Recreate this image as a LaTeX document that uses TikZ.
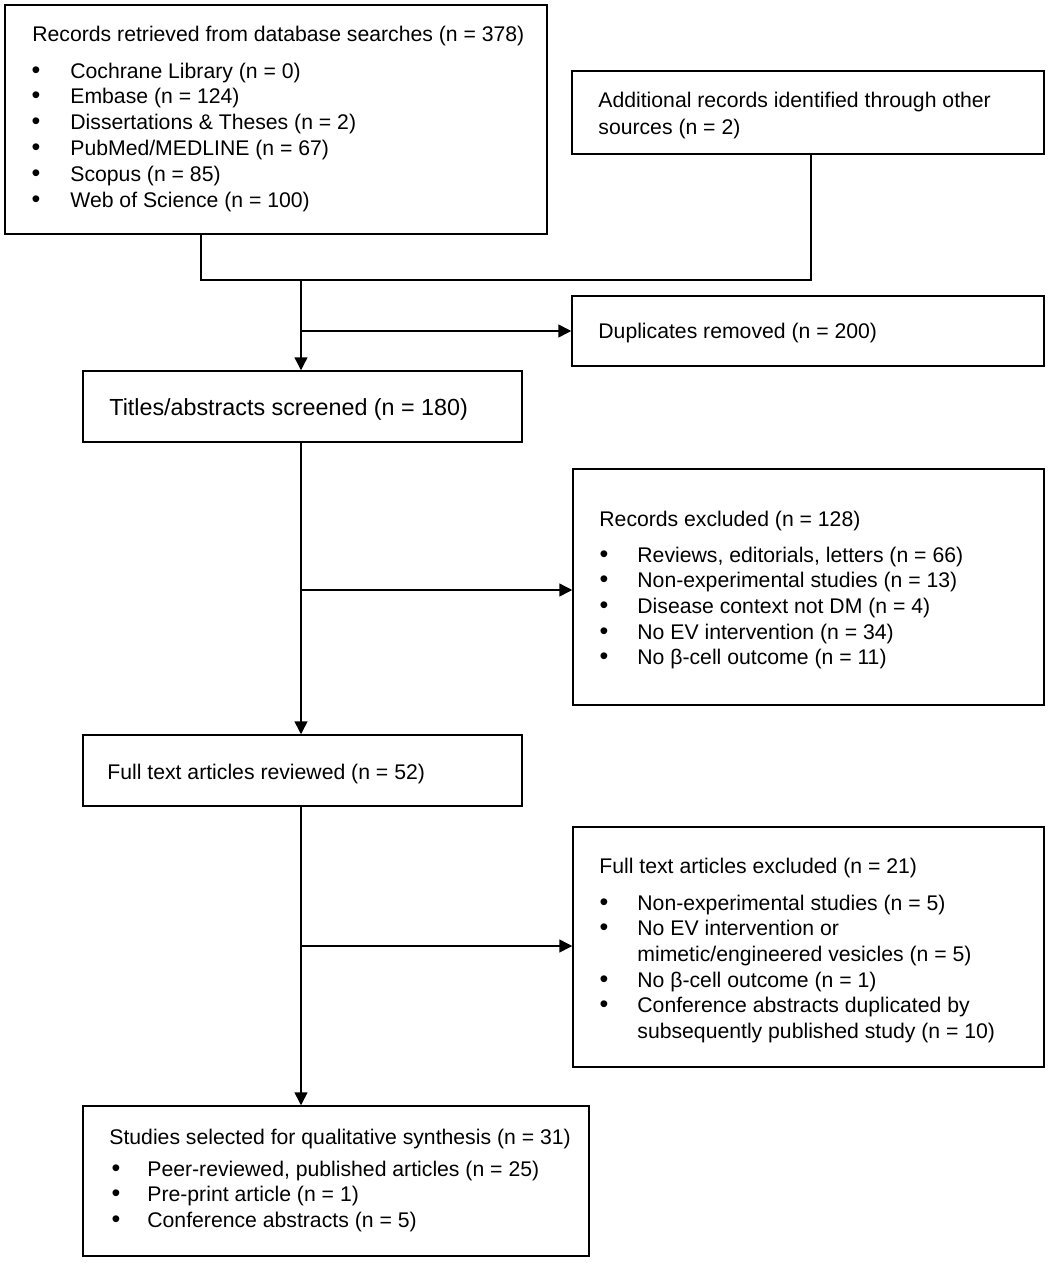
\documentclass[tikz,border=0pt]{standalone}
\usepackage{fontspec}
\setmainfont{Liberation Sans}
\usetikzlibrary{arrows.meta,fit}
\begin{document}
\begin{tikzpicture}[x=0.5pt,y=-0.5pt,
  box/.style={draw,line width=0.75pt,inner sep=0pt},
  txt/.style={anchor=base west,inner sep=0pt,font=\fontsize{10.6}{12.7}\selectfont},
  bigtxt/.style={anchor=base west,inner sep=0pt,font=\fontsize{11.65}{14}\selectfont},
  bul/.style={anchor=base,inner sep=0pt,font=\fontsize{12.5}{14}\selectfont},
  conn/.style={line width=0.75pt},
  arr/.style={line width=0.75pt,-{Triangle[length=6.5pt,width=6.5pt]}}]
\useasboundingbox (0,0) rectangle (1052,1263);

% boxes
\node[box,fit={(5,5) (547,234)}] (rec) {};
\node[box,fit={(572,71) (1044,154)}] (add) {};
\node[box,fit={(572,296) (1044,366)}] (dup) {};
\node[box,fit={(83,371) (522,442)}] (tit) {};
\node[box,fit={(573,469) (1044,705)}] (rex) {};
\node[box,fit={(83,735) (522,806)}] (ftr) {};
\node[box,fit={(573,827) (1044,1067)}] (fex) {};
\node[box,fit={(83,1106) (589,1256)}] (sel) {};

% box 1 text
\node[txt] (r0) at (32,41.7) {Records retrieved from database searches (n = 378)};
\foreach \t [count=\i] in {Cochrane Library (n = 0),Embase (n = 124),Dissertations \& Theses (n = 2),PubMed/MEDLINE (n = 67),Scopus (n = 85),Web of Science (n = 100)}{
  \node[bul] (rb\i) at (36,52.3+\i*25.8) {•};
  \node[txt] (rt\i) at (70,52.3+\i*25.8) {\t};
}

% box 2
\node[txt] (a1) at (598,108) {Additional records identified through other};
\node[txt] (a2) at (598,134) {sources (n = 2)};

% box 4
\node[txt] (d1) at (598,338) {Duplicates removed (n = 200)};

% box 3
\node[bigtxt] (s1) at (109,415) {Titles/abstracts screened (n = 180)};

% box 5
\node[txt] (x0) at (599,526) {Records excluded (n = 128)};
\foreach \t [count=\i] in {{Reviews, editorials, letters (n = 66)},Non-experimental studies (n = 13),Disease context not DM (n = 4),No EV intervention (n = 34),No β-cell outcome (n = 11)}{
  \node[bul] (xb\i) at (604,536.3+\i*25.7) {•};
  \node[txt] (xt\i) at (637,536.3+\i*25.7) {\t};
}

% box 6
\node[txt] (f1) at (107,779) {Full text articles reviewed (n = 52)};

% box 7
\node[txt] (e0) at (599,873) {Full text articles excluded (n = 21)};
\node[bul] (eb1) at (604,910) {•};
\node[txt] (et1) at (637,910) {Non-experimental studies (n = 5)};
\node[bul] (eb2) at (604,935.7) {•};
\node[txt] (et2) at (637,935.7) {No EV intervention or};
\node[txt] (et2b) at (637,961.4) {mimetic/engineered vesicles (n = 5)};
\node[bul] (eb3) at (604,987.1) {•};
\node[txt] (et3) at (637,987.1) {No β-cell outcome (n = 1)};
\node[bul] (eb4) at (604,1012.8) {•};
\node[txt] (et4) at (637,1012.8) {Conference abstracts duplicated by};
\node[txt] (et4b) at (637,1038.5) {subsequently published study (n = 10)};

% box 8
\node[txt] (q0) at (109,1144) {Studies selected for qualitative synthesis (n = 31)};
\foreach \t [count=\i] in {{Peer-reviewed, published articles (n = 25)},Pre-print article (n = 1),Conference abstracts (n = 5)}{
  \node[bul] (qb\i) at (116,1150.3+\i*25.8) {•};
  \node[txt] (qt\i) at (147,1150.3+\i*25.8) {\t};
}

% connectors
\coordinate (j1) at (201,280);
\coordinate (j2) at (811,280);
\coordinate (j3) at (301,280);
\coordinate (j4) at (301,331);
\coordinate (j5) at (301,590);
\coordinate (j6) at (301,946);
\draw[conn] (j1 |- rec.south) -- (j1) -- (j2) -- (j2 |- add.south);
\draw[arr] (j3) -- (j3 |- tit.north);
\draw[arr] (j4) -- (j4 -| dup.west);
\draw[arr] (j5 |- tit.south) -- (j5 |- ftr.north);
\draw[arr] (j5) -- (j5 -| rex.west);
\draw[arr] (j6 |- ftr.south) -- (j6 |- sel.north);
\draw[arr] (j6) -- (j6 -| fex.west);
\end{tikzpicture}
\end{document}
